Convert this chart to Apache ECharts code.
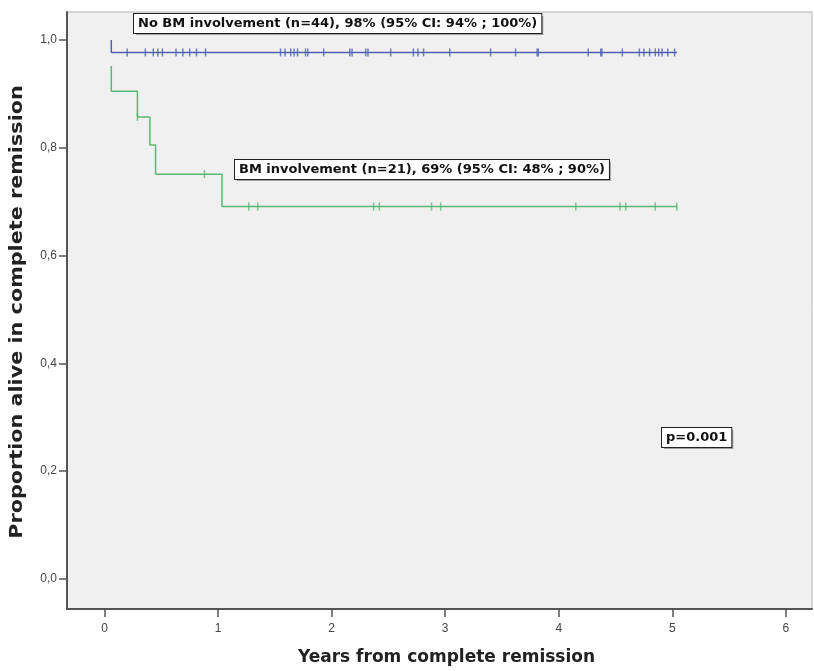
<!DOCTYPE html>
<html>
<head>
<meta charset="utf-8">
<script src="https://cdn.jsdelivr.net/npm/echarts@6/dist/echarts.min.js"></script>
<style>
html,body{margin:0;padding:0;background:#fff;}
#chart{width:814px;height:671px;}
</style>
</head>
<body>
<div id="chart"></div>
<script>
// ---- data ----
var xTicks = [0, 1, 2, 3, 4, 5, 6];
var yTicks = [0, 0.2, 0.4, 0.6, 0.8, 1.0];

// Kaplan-Meier step points (time, survival)
var noBmTimes = [0.06, 0.06, 5.04];
var noBmSurv  = [1.0, 0.977, 0.977];
var bmTimes = [0.06, 0.06, 0.29, 0.40, 0.45, 1.035, 5.04];
var bmSurv  = [0.952, 0.905, 0.857, 0.805, 0.751, 0.691, 0.691];

// censored observations
var noBmCensorTimes = [0.20, 0.36, 0.43, 0.47, 0.51, 0.63, 0.69, 0.75, 0.81, 0.89,
  1.55, 1.59, 1.64, 1.67, 1.70, 1.77, 1.79, 1.93, 2.16, 2.18, 2.30, 2.32, 2.52,
  2.72, 2.76, 2.81, 3.04, 3.40, 3.62, 3.81, 3.82, 4.26, 4.37, 4.38, 4.56, 4.71,
  4.75, 4.80, 4.85, 4.88, 4.91, 4.96, 5.02];
var noBmCensorSurv = 0.977;
var bmCensorTimes = [0.29, 0.88, 1.27, 1.35, 2.37, 2.42, 2.88, 2.96, 4.15, 4.54, 4.59, 4.85, 5.04];
var bmCensorSurv  = [0.857, 0.751, 0.691, 0.691, 0.691, 0.691, 0.691, 0.691, 0.691, 0.691, 0.691, 0.691, 0.691];

var labelNoBm = 'No BM involvement (n=44), 98% (95% CI: 94% ; 100%)';
var labelBm = 'BM involvement (n=21), 69% (95% CI: 48% ; 90%)';
var labelP = 'p=0.001';
var xTitle = 'Years from complete remission';
var yTitle = 'Proportion alive in complete remission';

// ---- build ----
function zip(a, b) {
  return a.map(function (v, i) { return [v, Array.isArray(b) ? b[i] : b]; });
}
var BLUE = '#4f62b2';
var GREEN = '#5cb870';
var BOXFONT = 'bold 13px "DejaVu Sans", sans-serif';

function box(x, y, text) {
  return [
    {
      type: 'text', x: x + 2, y: y + 2, z: 10,
      style: {
        text: text, font: BOXFONT,
        fill: '#a0a0a0', backgroundColor: '#a0a0a0', padding: [3, 4, 3, 4]
      }
    },
    {
      type: 'text', x: x, y: y, z: 11,
      style: {
        text: text, font: BOXFONT,
        fill: '#111', backgroundColor: '#fff', borderColor: '#222', borderWidth: 1,
        padding: [3, 4, 3, 4]
      }
    }
  ];
}

var chart = echarts.init(document.getElementById('chart'));
chart.setOption({
  backgroundColor: '#fff',
  animation: false,
  grid: {
    left: 67, top: 12, right: 2, bottom: 62, containLabel: false, outerBoundsMode: 'none',
    show: true, backgroundColor: '#f0f0f0', borderColor: '#b5b5b5', borderWidth: 1
  },
  xAxis: {
    type: 'value', min: -0.33, max: 6.23,
    name: xTitle, nameLocation: 'middle', nameGap: 40,
    nameTextStyle: { fontFamily: 'DejaVu Sans', fontWeight: 'bold', fontSize: 17, color: '#222', padding: [0, 0, 0, 14] },
    axisLine: { onZero: false, lineStyle: { color: '#555', width: 2 } },
    axisTick: { show: true, length: 8, customValues: xTicks, lineStyle: { color: '#555', width: 1.5 } },
    axisLabel: { customValues: xTicks, color: '#444', fontSize: 12, margin: 14, fontFamily: 'Liberation Sans' },
    splitLine: { show: false }
  },
  yAxis: {
    type: 'value', min: -0.056, max: 1.052,
    axisLine: { onZero: false, lineStyle: { color: '#555', width: 2 } },
    axisTick: { show: true, length: 8, customValues: yTicks, lineStyle: { color: '#555', width: 1.5 } },
    axisLabel: {
      customValues: yTicks, color: '#444', fontSize: 12, margin: 10, fontFamily: 'Liberation Sans',
      formatter: function (v) { return v.toFixed(1).replace('.', ','); }
    },
    splitLine: { show: false }
  },
  series: [
    {
      type: 'line', step: 'end', data: zip(noBmTimes, noBmSurv), symbol: 'none',
      lineStyle: { color: BLUE, width: 1.5 }
    },
    {
      type: 'line', step: 'end', data: zip(bmTimes, bmSurv), symbol: 'none',
      lineStyle: { color: GREEN, width: 1.5 }
    },
    {
      type: 'scatter', data: zip(noBmCensorTimes, noBmCensorSurv), symbol: 'rect',
      symbolSize: [1.5, 8], itemStyle: { color: BLUE }
    },
    {
      type: 'scatter', data: zip(bmCensorTimes, bmCensorSurv), symbol: 'rect',
      symbolSize: [1.5, 8], itemStyle: { color: GREEN }
    }
  ],
  graphic: [].concat(
    box(134, 14, labelNoBm),
    box(235, 160, labelBm),
    box(662, 428, labelP),
    [{
      type: 'text', x: 18, y: 312, rotation: Math.PI / 2, scaleX: 1.22,
      style: {
        text: yTitle, font: 'bold 17px "DejaVu Sans", sans-serif', fill: '#222',
        align: 'center', verticalAlign: 'middle'
      }
    }]
  )
});
</script>
</body>
</html>
